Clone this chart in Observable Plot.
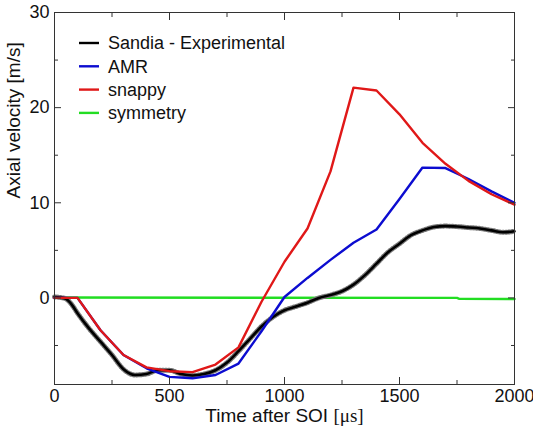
<!DOCTYPE html>
<html><head><meta charset="utf-8">
<script src="https://cdn.jsdelivr.net/npm/d3@7"></script>
<script src="https://cdn.jsdelivr.net/npm/@observablehq/plot@0.6"></script>
<style>
body{margin:0;background:#fff}
svg{font-family:"Liberation Sans",Arial,sans-serif}
</style>
</head><body><div id="chart"></div>
<script>
// Sandia - Experimental
const expT = [0,25,50,75,100,150,200,250,300,350,400,450,500,550,600,650,700,750,800,850,900,950,1000,1050,1100,1150,1200,1250,1300,1350,1400,1450,1500,1550,1600,1650,1700,1750,1800,1850,1900,1950,2000];
const expV = [0.1,0.05,-0.1,-0.7,-1.6,-3.2,-4.6,-6.0,-7.5,-8.1,-8.0,-7.6,-7.6,-8.0,-8.15,-8.0,-7.6,-6.8,-5.6,-4.3,-3.0,-2.0,-1.3,-0.9,-0.5,0.0,0.3,0.7,1.4,2.4,3.6,4.8,5.7,6.6,7.1,7.45,7.55,7.5,7.4,7.3,7.1,6.9,7.0];
// AMR
const amrT = [0,100,200,300,400,500,600,700,800,900,1000,1100,1200,1300,1400,1500,1600,1700,1800,1900,2000];
const amrV = [0,0,-3.4,-6.0,-7.4,-8.3,-8.45,-8.1,-6.9,-3.5,0.1,2.1,4.0,5.8,7.2,10.4,13.7,13.65,12.5,11.2,10.0];
// snappy
const snapT = [0,100,200,300,400,500,600,700,800,900,1000,1100,1200,1300,1400,1500,1600,1700,1800,1900,2000];
const snapV = [0,0,-3.4,-6.0,-7.3,-7.7,-7.8,-7.0,-5.2,-0.4,3.8,7.3,13.3,22.1,21.8,19.3,16.3,14.1,12.3,10.9,9.8];
// symmetry
const symT = [0,1750,1760,2000];
const symV = [0.05,0.0,-0.1,-0.12];

const seriesNames = ["Sandia - Experimental","AMR","snappy","symmetry"];
const seriesColors = ["#000000","#0c0cd0","#e01818","#22dd22"];

const xMajor = [0,500,1000,1500,2000];
const xMinor = [250,750,1250,1750];
const yMajor = [0,10,20,30];
const yMinor = [-5,5,15,25];
const xLabel = "Time after SOI [μs]";
const yLabel = "Axial velocity [m/s]";

const rows = (T, V) => T.map((t, i) => ({t, v: V[i]}));
const exp = rows(expT, expV), amr = rows(amrT, amrV), snap = rows(snapT, snapV), sym = rows(symT, symV);

const blank = () => "";
const num = d => String(d);
const plot = Plot.plot({
  width: 533, height: 428,
  marginLeft: 54, marginRight: 19, marginTop: 12, marginBottom: 44,
  style: {fontSize: "18px", fontFamily: "'Liberation Sans', Arial, sans-serif", background: "#fff", overflow: "visible"},
  x: {domain: [0, 2000]},
  y: {domain: [-9.1, 30]},
  marks: [
    Plot.line(sym, {x: "t", y: "v", stroke: seriesColors[3], strokeWidth: 2.4}),
    Plot.line(exp, {x: "t", y: "v", stroke: "#777", strokeWidth: 5, strokeDasharray: "1,2", curve: "monotone-x"}),
    Plot.line(exp, {x: "t", y: "v", stroke: seriesColors[0], strokeWidth: 2.6, curve: "monotone-x"}),
    Plot.line(amr, {x: "t", y: "v", stroke: seriesColors[1], strokeWidth: 2.4}),
    Plot.line(snap, {x: "t", y: "v", stroke: seriesColors[2], strokeWidth: 2.4}),
    Plot.frame({stroke: "#333"}),
    Plot.axisX(xMajor, {anchor: "bottom", tickSize: -7, tickPadding: 12, tickFormat: num, label: null, stroke: "#333", fill: "#111"}),
    Plot.axisX(xMinor, {anchor: "bottom", tickSize: -4, tickFormat: blank, label: null, stroke: "#333"}),
    Plot.axisX(xMajor, {anchor: "top", tickSize: -7, tickFormat: blank, label: null, stroke: "#333"}),
    Plot.axisX(xMinor, {anchor: "top", tickSize: -4, tickFormat: blank, label: null, stroke: "#333"}),
    Plot.axisY(yMajor, {anchor: "left", tickSize: -7, tickPadding: 12, tickFormat: num, label: null, stroke: "#333", fill: "#111"}),
    Plot.axisY(yMinor, {anchor: "left", tickSize: -4, tickFormat: blank, label: null, stroke: "#333"}),
    Plot.axisY(yMajor, {anchor: "right", tickSize: -7, tickFormat: blank, label: null, stroke: "#333"}),
    Plot.axisY(yMinor, {anchor: "right", tickSize: -4, tickFormat: blank, label: null, stroke: "#333"}),
    Plot.text([xLabel], {frameAnchor: "bottom", dy: 24, lineAnchor: "top", fontSize: 19, fill: "#111"}),
    Plot.text([yLabel], {frameAnchor: "left", rotate: -90, dx: -41, fontSize: 19, fill: "#111"})
  ]
});
document.getElementById("chart").appendChild(plot);

// serif μs like the reference
d3.select(plot).selectAll("text").filter(function() { return this.textContent === xLabel; })
  .each(function() {
    const t = d3.select(this); t.text(null);
    t.append("tspan").text("Time after SOI ");
    t.append("tspan").attr("font-family", "'Liberation Serif', 'DejaVu Serif', serif").text("[μs]");
  });

// legend inside the plot
const lg = d3.select(plot).append("g").attr("font-size", 18).attr("fill", "#111").attr("text-anchor", "start");
seriesNames.forEach((name, i) => {
  const y = 43 + i * 23.3;
  lg.append("line").attr("x1", 79).attr("x2", 99).attr("y1", y).attr("y2", y)
    .attr("stroke", seriesColors[i]).attr("stroke-width", 2.4);
  lg.append("text").attr("x", 108).attr("y", y).attr("dy", "0.35em").text(name);
});
</script>
</body></html>
